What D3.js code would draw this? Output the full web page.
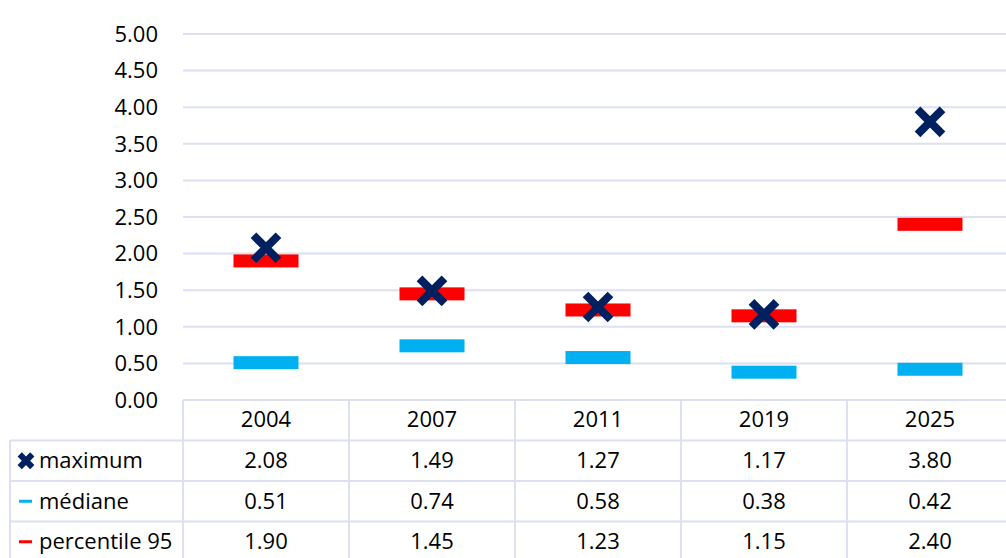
<!DOCTYPE html>
<html>
<head>
<meta charset="utf-8">
<script src="https://cdn.jsdelivr.net/npm/d3@7"></script>
<style>
  html, body { margin: 0; padding: 0; background: #fff; }
  svg { display: block; font-family: "Open Sans", "Noto Sans", sans-serif; }
</style>
</head>
<body>
<svg id="chart" width="1006" height="558"></svg>
<script>
// Years and the three statistics per year
const years = ["2004", "2007", "2011", "2019", "2025"];
const maximum = [2.08, 1.49, 1.27, 1.17, 3.80];
const mediane = [0.51, 0.74, 0.58, 0.38, 0.42];
const percentile95 = [1.90, 1.45, 1.23, 1.15, 2.40];
const yTicks = [0, 0.5, 1, 1.5, 2, 2.5, 3, 3.5, 4, 4.5, 5];

const seriesRows = [
  { name: "maximum", values: maximum, kind: "cross", color: "#002060" },
  { name: "médiane", values: mediane, kind: "dash", color: "#00B0F0" },
  { name: "percentile 95", values: percentile95, kind: "dash", color: "#FF0000" }
];

const W = 1006, H = 558;
const plotLeft = 183, plotRight = 1013, plotTop = 34, plotBottom = 400;
const rowH = 40.5, tableLeft = 10;
const gridColor = "#dce0f2";
const fontSize = 22;
const fmt = d3.format(".2f");

const svg = d3.select("#chart");

const x = d3.scaleBand().domain(years).range([plotLeft, plotRight]).padding(0);
const y = d3.scaleLinear().domain([0, 5]).range([plotBottom, plotTop]);

// Horizontal gridlines
svg.append("g").selectAll("line").data(yTicks).join("line")
  .attr("x1", plotLeft).attr("x2", plotRight)
  .attr("y1", d => y(d)).attr("y2", d => y(d))
  .attr("stroke", gridColor).attr("stroke-width", 2);

// Value axis labels
svg.append("g").selectAll("text").data(yTicks).join("text")
  .attr("x", 158).attr("y", d => y(d))
  .attr("dy", "0.35em")
  .attr("text-anchor", "end")
  .attr("font-size", fontSize).attr("fill", "#000")
  .text(d => fmt(d));

// Data table grid
const tableTop = plotBottom;
const rowsY = [0, 1, 2, 3].map(i => tableTop + i * rowH);
const tbl = svg.append("g");
// top border of the header row (only under the plot)
tbl.append("line")
  .attr("x1", plotLeft).attr("x2", plotRight)
  .attr("y1", tableTop).attr("y2", tableTop)
  .attr("stroke", gridColor).attr("stroke-width", 2);
// row separators
tbl.selectAll("line.row").data(rowsY.slice(1)).join("line").attr("class", "row")
  .attr("x1", tableLeft).attr("x2", plotRight)
  .attr("y1", d => d).attr("y2", d => d)
  .attr("stroke", gridColor).attr("stroke-width", 2);
// column separators
tbl.selectAll("line.col").data(years).join("line").attr("class", "col")
  .attr("x1", d => x(d)).attr("x2", d => x(d))
  .attr("y1", tableTop).attr("y2", H)
  .attr("stroke", gridColor).attr("stroke-width", 2);
// left border of the legend column
tbl.append("line")
  .attr("x1", tableLeft).attr("x2", tableLeft)
  .attr("y1", rowsY[1]).attr("y2", H)
  .attr("stroke", gridColor).attr("stroke-width", 2);

// Year header
tbl.selectAll("text.year").data(years).join("text").attr("class", "year")
  .attr("x", d => x(d) + x.bandwidth() / 2)
  .attr("y", tableTop + rowH / 2 - 1)
  .attr("dy", "0.35em").attr("text-anchor", "middle")
  .attr("font-size", fontSize).attr("fill", "#000")
  .text(d => d);

function crossPath(r) {
  return `M${-r},${-r}L${r},${r}M${-r},${r}L${r},${-r}`;
}

// Table rows: legend key, name and values
seriesRows.forEach((s, i) => {
  const cy = rowsY[i + 1] + rowH / 2;
  const g = tbl.append("g");
  if (s.kind === "cross") {
    g.append("path").attr("d", crossPath(6.3))
      .attr("transform", `translate(26,${cy})`)
      .attr("stroke", s.color).attr("stroke-width", 6).attr("fill", "none");
  } else {
    g.append("rect").attr("x", 19).attr("y", cy - 1.5)
      .attr("width", 13).attr("height", 3).attr("fill", s.color);
  }
  g.append("text").attr("x", 39).attr("y", cy).attr("dy", "0.35em")
    .attr("font-size", fontSize).attr("fill", "#000").text(s.name);
  g.selectAll("text.val").data(s.values).join("text").attr("class", "val")
    .attr("x", (d, j) => x(years[j]) + x.bandwidth() / 2)
    .attr("y", cy).attr("dy", "0.35em").attr("text-anchor", "middle")
    .attr("font-size", fontSize).attr("fill", "#000")
    .text(d => fmt(d));
});

// Markers: dashes for médiane and percentile 95, crosses for maximum
const dashW = 65, dashH = 13;
const marks = svg.append("g");
[seriesRows[1], seriesRows[2]].forEach(s => {
  marks.append("g").selectAll("rect").data(s.values).join("rect")
    .attr("x", (d, j) => x(years[j]) + x.bandwidth() / 2 - dashW / 2)
    .attr("y", d => y(d) - dashH / 2)
    .attr("width", dashW).attr("height", dashH)
    .attr("fill", s.color);
});
marks.append("g").selectAll("path").data(maximum).join("path")
  .attr("d", crossPath(12.5))
  .attr("transform", (d, j) => `translate(${x(years[j]) + x.bandwidth() / 2},${y(d)})`)
  .attr("stroke", "#002060").attr("stroke-width", 8).attr("fill", "none");
</script>
</body>
</html>
